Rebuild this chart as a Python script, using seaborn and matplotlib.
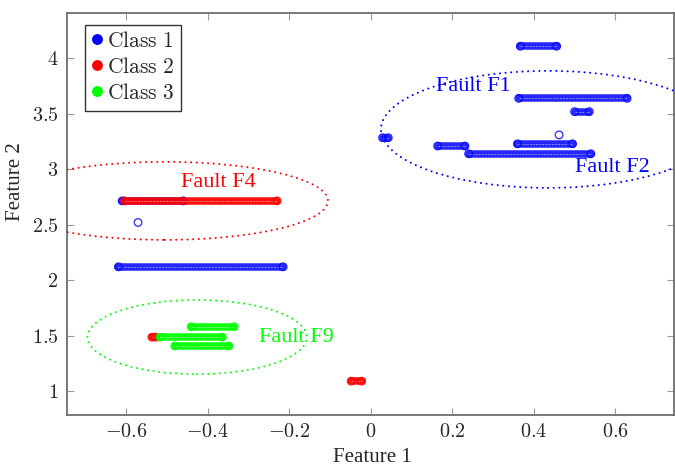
import numpy as np
import pandas as pd
import matplotlib
matplotlib.use("Agg")
import matplotlib.pyplot as plt
import seaborn as sns
from matplotlib.patches import Ellipse
from matplotlib.lines import Line2D
from matplotlib.ticker import FuncFormatter, FixedLocator

# ---------------- data ----------------
class_names = ["Class 1", "Class 2", "Class 3"]
class_colors = ["#0000ff", "#ff0000", "#00ff00"]

# each class: horizontal runs of samples (start x, end x, y)
class1_y = [4.11, 3.64, 3.52, 3.285, 3.31, 3.23, 3.21, 3.14, 2.715, 2.52, 2.12]
class1_x0 = [0.367, 0.363, 0.500, 0.029, 0.462, 0.360, 0.164, 0.240, -0.610, -0.571, -0.619]
class1_x1 = [0.456, 0.629, 0.536, 0.043, 0.462, 0.495, 0.231, 0.540, -0.460, -0.571, -0.215]

class2_y = [2.715, 1.485, 1.088]
class2_x0 = [-0.604, -0.537, -0.048]
class2_x1 = [-0.230, -0.528, -0.0225]

class3_y = [1.58, 1.485, 1.406]
class3_x0 = [-0.4405, -0.517, -0.481]
class3_x1 = [-0.335, -0.364, -0.348]

# fault regions (ellipses)
fault_cx = [0.435, -0.505, -0.426]
fault_cy = [3.36, 2.715, 1.486]
fault_w = [0.82, 0.80, 0.538]
fault_h = [1.056, 0.704, 0.670]
fault_colors = ["#0000ff", "#ff0000", "#00ff00"]

# fault labels
label_text = ["Fault F1", "Fault F2", "Fault F4", "Fault F9"]
label_x = [0.251, 0.592, -0.375, -0.182]
label_y = [3.744, 3.013, 2.877, 1.485]
label_colors = ["#0000ff", "#0000ff", "#ff0000", "#00ff00"]

x_ticks = [-0.6, -0.4, -0.2, 0, 0.2, 0.4, 0.6]
y_ticks = [1, 1.5, 2, 2.5, 3, 3.5, 4]

# ---------------- style ----------------
sns.set_theme(style="white")
plt.rcParams["mathtext.fontset"] = "cm"
plt.rcParams["font.family"] = ["Liberation Serif", "DejaVu Serif"]

fig = plt.figure(figsize=(6.75, 4.66), dpi=100)
ax = fig.add_axes([66.7 / 675, 51 / 466, 607.3 / 675, 402 / 466])

all_classes = [
    (class1_x0, class1_x1, class1_y),
    (class2_x0, class2_x1, class2_y),
    (class3_x0, class3_x1, class3_y),
]

for ci, (x0s, x1s, ys) in enumerate(all_classes):
    col = class_colors[ci]
    zb = 2 + ci * 3
    rows = []
    pts = []
    for si, (a, b, y) in enumerate(zip(x0s, x1s, ys)):
        pts.append((a, y))
        if b != a:
            rows.append({"seg": si, "x": a, "y": y})
            rows.append({"seg": si, "x": b, "y": y})
            pts.append((b, y))
    if rows:
        df = pd.DataFrame(rows)
        sns.lineplot(data=df, x="x", y="y", units="seg", estimator=None,
                     sort=False, color=col, lw=5.4, alpha=0.85 if ci == 0 else 0.94,
                     solid_capstyle="round", legend=False, ax=ax, zorder=zb)
        sns.lineplot(data=df, x="x", y="y", units="seg", estimator=None,
                     sort=False, color="white", lw=0.7, alpha=0.45,
                     linestyle=(0, (2, 1.2)), legend=False, ax=ax, zorder=zb + 1)
    pdf = pd.DataFrame(pts, columns=["x", "y"])
    ax.scatter(pdf["x"], pdf["y"], s=30, facecolors="none",
               edgecolors=col, linewidths=0.9, alpha=0.85, zorder=zb + 2)

for cx, cy, w, h, c in zip(fault_cx, fault_cy, fault_w, fault_h, fault_colors):
    e = Ellipse((cx, cy), w, h, fill=False, edgecolor=c, lw=1.5,
                linestyle=(0, (0.01, 2.7)), capstyle="round", zorder=12)
    ax.add_patch(e)

for t, x, y, c in zip(label_text, label_x, label_y, label_colors):
    ax.text(x, y, t, color=c, fontsize=16, ha="center", va="center",
            family=["Liberation Serif", "DejaVu Serif"], zorder=13)

ax.set_xlim(-0.746, 0.744)
ax.set_ylim(0.783, 4.41)
ax.xaxis.set_major_locator(FixedLocator(x_ticks))
ax.yaxis.set_major_locator(FixedLocator(y_ticks))
fmt = FuncFormatter(lambda v, p: r"$%s$" % ("%g" % v))
ax.xaxis.set_major_formatter(fmt)
ax.yaxis.set_major_formatter(fmt)
ax.tick_params(direction="in", length=5, width=0.8, color="#999999",
               top=True, right=True, labelsize=14.5, pad=6,
               bottom=True, left=True)

for s in ax.spines.values():
    s.set_color("#6e6e6e")
    s.set_linewidth(1.3)

ax.set_xlabel("Feature 1", fontsize=15)
ax.set_ylabel("Feature 2", fontsize=15)
ax.xaxis.set_label_coords(0.503, -0.083)
ax.yaxis.set_label_coords(-0.069, 0.58)

handles = [Line2D([0], [0], marker="o", linestyle="none", markersize=6.8,
                  markerfacecolor=c, markeredgecolor=c) for c in class_colors]
leg = ax.legend(handles, [r"$\mathrm{%s}\quad\;$" % n.replace(" ", r"\ ") for n in class_names],
                loc="upper left", bbox_to_anchor=(0.03, 0.97), borderaxespad=0,
                fontsize=15.5, handlelength=0.45, handletextpad=0.25,
                labelspacing=0.27, borderpad=0.32, frameon=True, fancybox=False,
                framealpha=1)
leg.get_frame().set_edgecolor("#333333")
leg.get_frame().set_linewidth(1.0)
leg.set_zorder(20)

fig.savefig("out.png", dpi=100)
